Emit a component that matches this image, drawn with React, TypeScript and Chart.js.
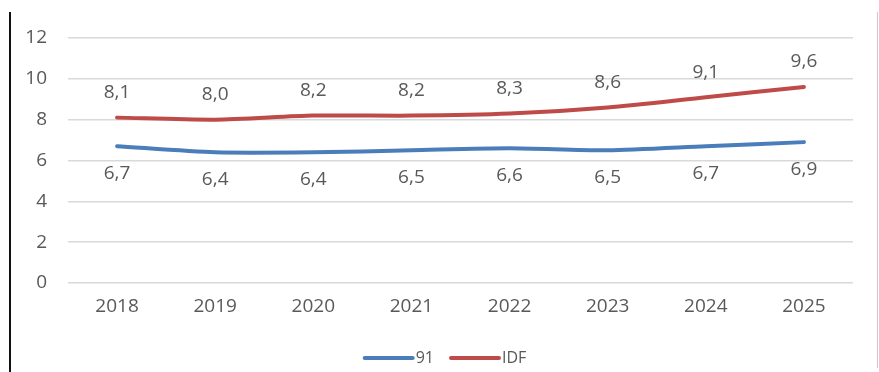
import React, { useEffect, useRef } from "react";
import { Chart, registerables, Plugin } from "chart.js";

Chart.register(...registerables);

const years = ["2018", "2019", "2020", "2021", "2022", "2023", "2024", "2025"];
const series91 = [6.7, 6.4, 6.4, 6.5, 6.6, 6.5, 6.7, 6.9];
const seriesIDF = [8.1, 8.0, 8.2, 8.2, 8.3, 8.6, 9.1, 9.6];
const seriesNames = ["91", "IDF"];
const seriesColors = ["#4A7EBB", "#BE4B48"];
const labelOffsets = [27, -25];

const FONT = "'Open Sans', 'DejaVu Sans', sans-serif";
const TEXT = "#595959";

const fmt = (v: number) => v.toFixed(1).replace(".", ",");

// value labels: under the 91 line, above the IDF line
const valueLabels: Plugin<"line"> = {
  id: "valueLabels",
  afterDatasetsDraw(chart) {
    const ctx = chart.ctx;
    ctx.save();
    ctx.font = `19px ${FONT}`;
    ctx.fillStyle = TEXT;
    ctx.textAlign = "center";
    ctx.textBaseline = "middle";
    chart.data.datasets.forEach((ds, i) => {
      const meta = chart.getDatasetMeta(i);
      meta.data.forEach((pt, j) => {
        const v = ds.data[j] as number;
        ctx.fillText(fmt(v), pt.x, pt.y + labelOffsets[i]);
      });
    });
    ctx.restore();
  },
};

// frame lines on the left and right edges plus the bottom legend
const frameAndLegend: Plugin<"line"> = {
  id: "frameAndLegend",
  afterDraw(chart) {
    const ctx = chart.ctx;
    ctx.save();
    ctx.strokeStyle = "#111";
    ctx.lineWidth = 2;
    ctx.beginPath();
    ctx.moveTo(10, 12);
    ctx.lineTo(10, chart.height);
    ctx.stroke();
    ctx.strokeStyle = "#c8c8c8";
    ctx.lineWidth = 1;
    ctx.beginPath();
    ctx.moveTo(877.5, 12);
    ctx.lineTo(877.5, chart.height - 4);
    ctx.stroke();

    ctx.font = `16px ${FONT}`;
    ctx.textBaseline = "middle";
    ctx.textAlign = "left";
    const lineW = 52;
    const gapText = 1;
    const gapItem = 15;
    const items = chart.data.datasets.map((ds) => ({
      text: ds.label as string,
      color: ds.borderColor as string,
      w: ctx.measureText(ds.label as string).width,
    }));
    const total = items.reduce((s, it) => s + lineW + gapText + it.w, 0) + gapItem * (items.length - 1);
    let x = (10 + chart.width) / 2 - total / 2;
    const y = 358;
    items.forEach((it) => {
      ctx.strokeStyle = it.color;
      ctx.lineWidth = 4;
      ctx.lineCap = "round";
      ctx.beginPath();
      ctx.moveTo(x + 2, y);
      ctx.lineTo(x + lineW - 2, y);
      ctx.stroke();
      ctx.fillStyle = TEXT;
      ctx.fillText(it.text, x + lineW + gapText, y);
      x += lineW + gapText + it.w + gapItem;
    });
    ctx.restore();
  },
};

export default function App() {
  const ref = useRef<HTMLCanvasElement>(null);

  useEffect(() => {
    if (!ref.current) return;
    const chart = new Chart(ref.current, {
      type: "line",
      data: {
        labels: years,
        datasets: [series91, seriesIDF].map((d, i) => ({
          label: seriesNames[i],
          data: d,
          borderColor: seriesColors[i],
          backgroundColor: seriesColors[i],
          borderWidth: 4,
          borderCapStyle: "round" as const,
          pointRadius: 0,
          tension: 0.25,
        })),
      },
      options: {
        responsive: false,
        animation: false,
        devicePixelRatio: 1,
        layout: { padding: { left: 0, top: 38, right: 26, bottom: 0 } },
        plugins: { legend: { display: false }, tooltip: { enabled: false } },
        scales: {
          x: {
            offset: true,
            grid: { display: false, drawTicks: false },
            border: { display: false },
            ticks: { color: TEXT, font: { family: FONT, size: 19 }, padding: 12, maxRotation: 0 },
            afterFit: (s) => {
              s.height = 89;
            },
          },
          y: {
            min: 0,
            max: 12,
            ticks: { stepSize: 2, color: TEXT, font: { family: FONT, size: 19 }, padding: 21 },
            grid: { color: "#d9d9d9", lineWidth: 1.5, drawTicks: false },
            border: { display: false },
            afterFit: (s) => {
              s.width = 68;
            },
          },
        },
      },
      plugins: [valueLabels, frameAndLegend],
    });
    return () => chart.destroy();
  }, []);

  return (
    <div style={{ position: "fixed", left: 0, top: 0, width: 879, height: 372, background: "#fff" }}>
      <canvas ref={ref} width={879} height={372} style={{ display: "block" }} />
    </div>
  );
}
